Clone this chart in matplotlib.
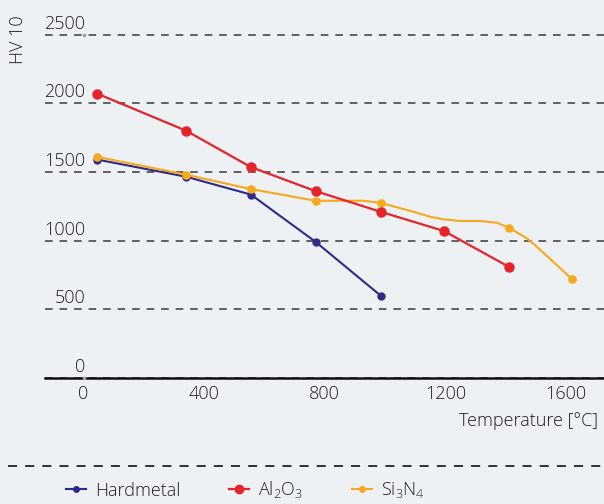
import matplotlib.pyplot as plt
import matplotlib.transforms as mtransforms
from matplotlib.lines import Line2D

plt.rcParams['font.family'] = ['Open Sans', 'DejaVu Sans']
plt.rcParams['font.weight'] = 'light'
plt.rcParams['mathtext.default'] = 'regular'

# values (temperature in degC, hardness HV 10)
temp_hard = [45, 340, 555, 770, 985]
hv_hard = [1590, 1465, 1335, 990, 600]

temp_al = [45, 340, 555, 770, 985, 1195, 1410]
hv_al = [2070, 1800, 1535, 1360, 1210, 1070, 810]

temp_si = [45, 340, 555, 770, 985, 1410, 1620]
hv_si = [1610, 1480, 1375, 1290, 1275, 1095, 720]
# Si3N4 curve path between the measured points
temp_si_curve = [45, 340, 555, 770, 928, 985, 1094, 1149, 1193, 1248, 1315,
                 1370, 1410, 1470, 1503, 1620]
hv_si_curve = [1610, 1480, 1375, 1290, 1290, 1275, 1210, 1174, 1155, 1143,
               1143, 1130, 1095, 1017, 956, 720]

x_ticks = [0, 400, 800, 1200, 1600]
y_ticks = [0, 500, 1000, 1500, 2000, 2500]

navy = '#2f2a85'
red = '#e52329'
yellow = '#f6a91d'
bg = '#edf1f4'
txt = '#1e1e1e'

fig = plt.figure(figsize=(6.04, 5.04), dpi=100, facecolor=bg)
ax = fig.add_axes([45 / 604, 126 / 504, 559 / 604, 357.2 / 504])
ax.set_facecolor(bg)

ax.plot(temp_hard, hv_hard, color=navy, lw=1.5, marker='o', ms=5, zorder=3)
ax.plot(temp_al, hv_al, color=red, lw=1.6, marker='o', ms=6.5, zorder=4)
ax.plot(temp_si_curve, hv_si_curve, color=yellow, lw=1.5, zorder=3)
ax.plot(temp_si, hv_si, color=yellow, ls='none', marker='o', ms=5.2, zorder=3)

# small grey origin marks
ax.plot([0, 0], [0, 2500], ls='none', marker='s', ms=2, color='#a0a4a8',
        clip_on=False, zorder=5)

ax.set_xlim(-128, 1726)
ax.set_ylim(0, 2600)

for s in ['top', 'right', 'left']:
    ax.spines[s].set_visible(False)
ax.spines['bottom'].set_linewidth(1.8)
ax.spines['bottom'].set_color('#111111')

ax.set_yticks(y_ticks)
ax.set_yticklabels([str(v) for v in y_ticks])
ax.set_xticks(x_ticks)
ax.set_xticklabels([str(v) for v in x_ticks])
ax.tick_params(axis='y', length=0, pad=-29, labelsize=13, labelcolor=txt)
ax.tick_params(axis='x', length=0, pad=5, labelsize=13, labelcolor=txt)

up = mtransforms.ScaledTranslation(0, 13 / 100, fig.dpi_scale_trans)
for lab in ax.get_yticklabels():
    lab.set_transform(lab.get_transform() + up)

ax.yaxis.grid(True, ls=(0, (5, 4.5)), color='#3a3a3a', lw=1.1)
ax.set_axisbelow(True)

fig.text(18 / 604, 1 - 40 / 504, 'HV 10', rotation=90, ha='center', va='center',
         fontsize=13, color=txt)
fig.text(598 / 604, 1 - 421 / 504, 'Temperature [°C]', ha='right', va='center',
         fontsize=13, color=txt)

fig.add_artist(Line2D([8 / 604, 1], [1 - 466 / 504] * 2, transform=fig.transFigure,
                      color='#222222', lw=1.3, ls=(0, (5, 4.5))))

handles = [
    Line2D([], [], color=navy, lw=1.5, marker='o', ms=4),
    Line2D([], [], color=red, lw=1.6, marker='o', ms=6),
    Line2D([], [], color=yellow, lw=1.5, marker='o', ms=4),
]
labels = ['Hardmetal', 'Al$_2$O$_3$', 'Si$_3$N$_4$']
fig.legend(handles, labels, loc='center left', bbox_to_anchor=(50 / 604, 1 - 490 / 504),
           ncol=3, frameon=False, fontsize=13, handlelength=1.1, handletextpad=0.5,
           columnspacing=2.7, labelcolor=txt)

fig.savefig('out.png', dpi=100, facecolor=bg)
